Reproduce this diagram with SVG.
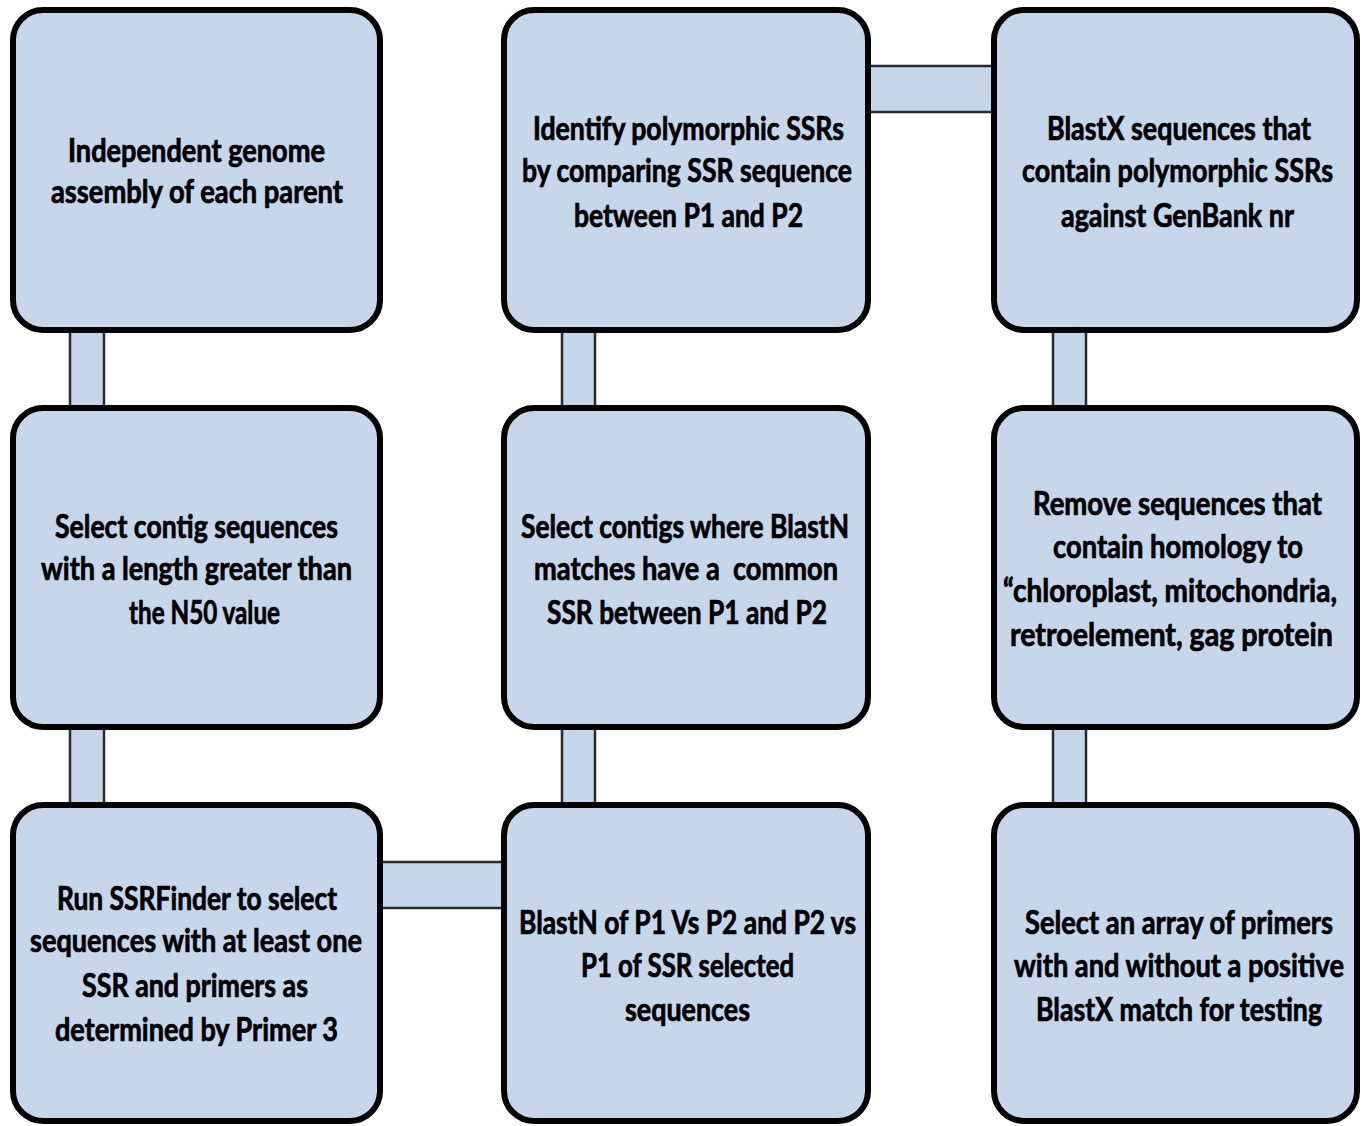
<svg xmlns="http://www.w3.org/2000/svg" width="1362" height="1126" viewBox="0 0 1362 1126">
<style>
.box{fill:#c6d7eb;stroke:#000;stroke-width:6}
.bar{fill:#c6d7eb;stroke:#2a2a2a;stroke-width:2.5}
.t{font-family:Lato,"Open Sans","Liberation Sans",sans-serif;font-weight:bold;font-size:26px;fill:#000;stroke:#000;stroke-width:0.6;text-anchor:middle}
</style>
<rect width="1362" height="1126" fill="#fff"/>
<g id="connectors">
<rect class="bar" x="70" y="320" width="34" height="100"/>
<rect class="bar" x="70" y="715" width="34" height="100"/>
<rect class="bar" x="562" y="320" width="33" height="100"/>
<rect class="bar" x="562" y="715" width="33" height="100"/>
<rect class="bar" x="1053" y="320" width="33" height="100"/>
<rect class="bar" x="1053" y="715" width="33" height="100"/>
<rect class="bar" x="860" y="66" width="145" height="46"/>
<rect class="bar" x="370" y="862" width="145" height="46"/>
</g>
<g id="n1">
<rect class="box" x="13" y="10" width="367" height="320" rx="30"/>
<text class="t" x="196.5" y="0" transform="translate(0 162) scale(1 1.22)" textLength="257" lengthAdjust="spacingAndGlyphs">Independent genome</text>
<text class="t" x="197" y="0" transform="translate(0 203) scale(1 1.22)" textLength="292" lengthAdjust="spacingAndGlyphs">assembly of each parent</text>
</g>
<g id="n2">
<rect class="box" x="504" y="10" width="364" height="320" rx="30"/>
<text class="t" x="688.5" y="0" transform="translate(0 140) scale(1 1.22)" textLength="311" lengthAdjust="spacingAndGlyphs">Identify polymorphic SSRs</text>
<text class="t" x="687" y="0" transform="translate(0 182) scale(1 1.22)" textLength="330" lengthAdjust="spacingAndGlyphs">by comparing SSR sequence</text>
<text class="t" x="688.5" y="0" transform="translate(0 227) scale(1 1.22)" textLength="229" lengthAdjust="spacingAndGlyphs">between P1 and P2</text>
</g>
<g id="n3">
<rect class="box" x="994" y="10" width="363" height="320" rx="30"/>
<text class="t" x="1179" y="0" transform="translate(0 140) scale(1 1.22)" textLength="264" lengthAdjust="spacingAndGlyphs">BlastX sequences that</text>
<text class="t" x="1177.5" y="0" transform="translate(0 182) scale(1 1.22)" textLength="311" lengthAdjust="spacingAndGlyphs">contain polymorphic SSRs</text>
<text class="t" x="1177.5" y="0" transform="translate(0 227) scale(1 1.22)" textLength="233" lengthAdjust="spacingAndGlyphs">against GenBank nr</text>
</g>
<g id="n4">
<rect class="box" x="13" y="408" width="367" height="319" rx="30"/>
<text class="t" x="196.5" y="0" transform="translate(0 538) scale(1 1.22)" textLength="283" lengthAdjust="spacingAndGlyphs">Select contig sequences</text>
<text class="t" x="196.5" y="0" transform="translate(0 580) scale(1 1.22)" textLength="311" lengthAdjust="spacingAndGlyphs">with a length greater than</text>
<text class="t" x="204.5" y="0" transform="translate(0 624) scale(1 1.22)" textLength="151" lengthAdjust="spacingAndGlyphs">the N50 value</text>
</g>
<g id="n5">
<rect class="box" x="504" y="408" width="364" height="319" rx="30"/>
<text class="t" x="685" y="0" transform="translate(0 538) scale(1 1.22)" textLength="328" lengthAdjust="spacingAndGlyphs">Select contigs where BlastN</text>
<text class="t" x="686" y="0" transform="translate(0 580) scale(1 1.22)" textLength="304" lengthAdjust="spacingAndGlyphs" xml:space="preserve">matches have a  common</text>
<text class="t" x="687" y="0" transform="translate(0 624) scale(1 1.22)" textLength="280" lengthAdjust="spacingAndGlyphs">SSR between P1 and P2</text>
</g>
<g id="n6">
<rect class="box" x="994" y="408" width="363" height="319" rx="30"/>
<text class="t" x="1177.5" y="0" transform="translate(0 515) scale(1 1.22)" textLength="289" lengthAdjust="spacingAndGlyphs">Remove sequences that</text>
<text class="t" x="1178" y="0" transform="translate(0 558) scale(1 1.22)" textLength="250" lengthAdjust="spacingAndGlyphs">contain homology to</text>
<text class="t" x="1170" y="0" transform="translate(0 602) scale(1 1.22)" textLength="334" lengthAdjust="spacingAndGlyphs">“chloroplast, mitochondria,</text>
<text class="t" x="1171.5" y="0" transform="translate(0 646) scale(1 1.22)" textLength="323" lengthAdjust="spacingAndGlyphs">retroelement, gag protein</text>
</g>
<g id="n7">
<rect class="box" x="13" y="805" width="367" height="316" rx="30"/>
<text class="t" x="197" y="0" transform="translate(0 910) scale(1 1.22)" textLength="280" lengthAdjust="spacingAndGlyphs">Run SSRFinder to select</text>
<text class="t" x="196" y="0" transform="translate(0 952) scale(1 1.22)" textLength="332" lengthAdjust="spacingAndGlyphs">sequences with at least one</text>
<text class="t" x="195" y="0" transform="translate(0 997) scale(1 1.22)" textLength="226" lengthAdjust="spacingAndGlyphs">SSR and primers as</text>
<text class="t" x="196.5" y="0" transform="translate(0 1041) scale(1 1.22)" textLength="283" lengthAdjust="spacingAndGlyphs">determined by Primer 3</text>
</g>
<g id="n8">
<rect class="box" x="504" y="805" width="364" height="316" rx="30"/>
<text class="t" x="687.5" y="0" transform="translate(0 934) scale(1 1.22)" textLength="337" lengthAdjust="spacingAndGlyphs">BlastN of P1 Vs P2 and P2 vs</text>
<text class="t" x="687.5" y="0" transform="translate(0 977) scale(1 1.22)" textLength="213" lengthAdjust="spacingAndGlyphs">P1 of SSR selected</text>
<text class="t" x="687.5" y="0" transform="translate(0 1021) scale(1 1.22)" textLength="125" lengthAdjust="spacingAndGlyphs">sequences</text>
</g>
<g id="n9">
<rect class="box" x="994" y="805" width="363" height="316" rx="30"/>
<text class="t" x="1179" y="0" transform="translate(0 934) scale(1 1.22)" textLength="308" lengthAdjust="spacingAndGlyphs">Select an array of primers</text>
<text class="t" x="1179" y="0" transform="translate(0 977) scale(1 1.22)" textLength="330" lengthAdjust="spacingAndGlyphs">with and without a positive</text>
<text class="t" x="1179" y="0" transform="translate(0 1021) scale(1 1.22)" textLength="286" lengthAdjust="spacingAndGlyphs">BlastX match for testing</text>
</g>
</svg>
